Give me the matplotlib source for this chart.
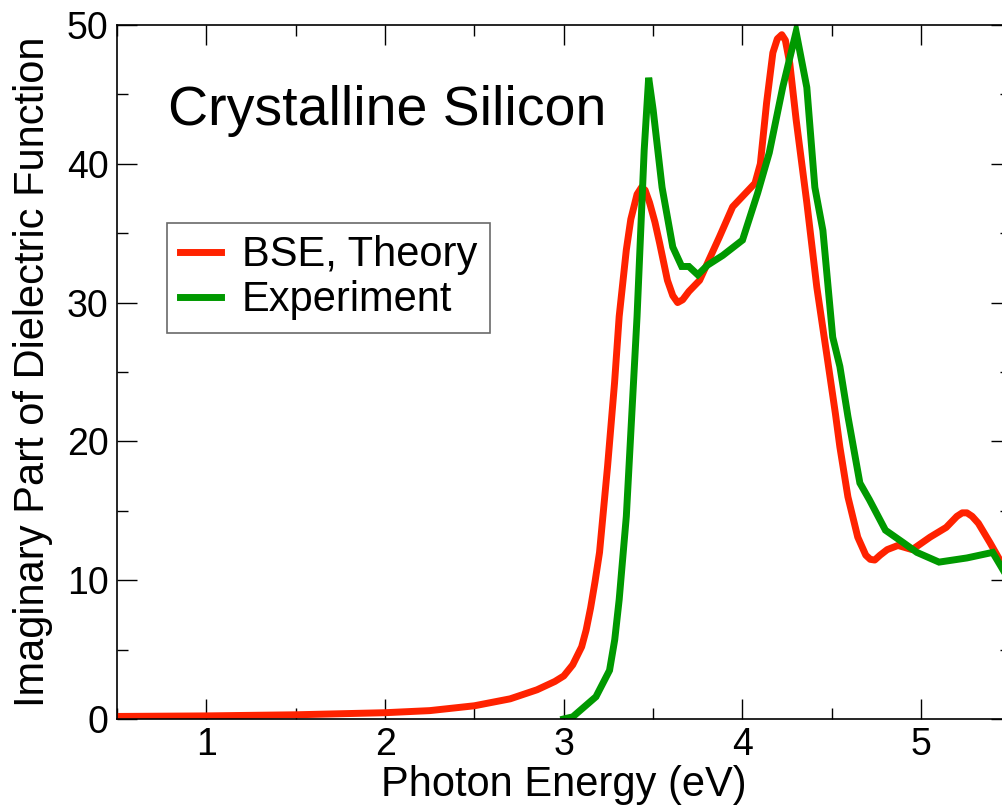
import matplotlib
matplotlib.use("Agg")
import matplotlib.pyplot as plt
from matplotlib.ticker import MultipleLocator

plt.rcParams["font.family"] = ["Liberation Sans", "DejaVu Sans"]

# ---- data ----
bse_energy = [0.5, 1.0, 1.5, 2.0, 2.25, 2.5, 2.7, 2.85, 2.95, 3.0, 3.05, 3.1,
              3.125, 3.15, 3.175, 3.2, 3.245, 3.284, 3.31, 3.35, 3.375, 3.41,
              3.435, 3.455, 3.48, 3.51, 3.536, 3.58, 3.61, 3.637, 3.665, 3.70,
              3.76, 3.87, 3.945, 4.07, 4.1, 4.135, 4.17, 4.195, 4.22, 4.24,
              4.265, 4.3, 4.36, 4.416, 4.47, 4.52, 4.545, 4.59, 4.645, 4.69,
              4.715, 4.74, 4.77, 4.81, 4.87, 4.95, 5.05, 5.14, 5.2, 5.23,
              5.256, 5.285, 5.32, 5.385, 5.46, 5.5]
bse_eps2 = [0.18, 0.22, 0.3, 0.45, 0.6, 0.95, 1.45, 2.1, 2.7, 3.1, 3.9, 5.2,
            6.4, 8.0, 9.9, 12.0, 18.2, 24.2, 29.0, 33.8, 36.0, 37.8,
            38.3, 38.1, 37.2, 35.8, 34.3, 31.6, 30.5, 30.0, 30.2, 30.8,
            31.6, 34.7, 36.9, 38.6, 40.0, 44.4, 48.0, 49.0, 49.3, 48.9,
            47.2, 43.2, 37.2, 31.1, 26.4, 22.0, 19.6, 16.0, 13.1, 11.8,
            11.5, 11.45, 11.8, 12.2, 12.5, 12.2, 13.1, 13.8, 14.6, 14.85,
            14.85, 14.6, 14.1, 12.7, 11.0, 10.0]

exp_energy = [3.0, 3.05, 3.18, 3.256, 3.285, 3.31, 3.35, 3.38, 3.41, 3.45,
              3.475, 3.5, 3.55, 3.61, 3.66, 3.70, 3.75, 3.805, 3.89, 4.0,
              4.085, 4.15, 4.225, 4.30, 4.36, 4.405, 4.45, 4.505, 4.545, 4.59,
              4.657, 4.71, 4.8, 4.9, 4.976, 5.1, 5.256, 5.4, 5.46, 5.5]
exp_eps2 = [0.0, 0.15, 1.6, 3.5, 5.7, 8.6, 14.6, 21.8, 29.0, 41.0,
            46.2, 43.9, 38.3, 34.0, 32.6, 32.6, 32.0, 32.7, 33.4, 34.5,
            37.9, 40.8, 45.5, 49.5, 45.5, 38.3, 35.2, 27.5, 25.4, 21.8,
            17.0, 15.8, 13.6, 12.7, 12.0, 11.3, 11.6, 12.0, 10.7, 10.0]

RED = "#ff2200"
GREEN = "#009900"

fig = plt.figure(figsize=(10.03, 8.11), dpi=100)
ax = fig.add_axes([0.1167, 0.1135, 0.8908, 0.8557])

ax.plot(bse_energy, bse_eps2, color=RED, lw=5, label="BSE, Theory",
        solid_joinstyle="round")
ax.plot(exp_energy, exp_eps2, color=GREEN, lw=5, label="Experiment",
        solid_joinstyle="miter")

ax.set_xlim(0.5, 5.5)
ax.set_ylim(0, 50)
ax.xaxis.set_major_locator(MultipleLocator(1))
ax.xaxis.set_minor_locator(MultipleLocator(0.5))
ax.yaxis.set_major_locator(MultipleLocator(10))
ax.yaxis.set_minor_locator(MultipleLocator(5))
ax.tick_params(which="both", direction="in", top=True, right=True,
               width=1.0, labelsize=27, pad=6)
ax.tick_params(which="major", length=14.5)
ax.tick_params(which="minor", length=8)
for sp in ax.spines.values():
    sp.set_linewidth(1.2)

ax.set_xlabel("Photon Energy (eV)", fontsize=30)
ax.set_ylabel("Imaginary Part of Dielectric Function", fontsize=30)
ax.xaxis.set_label_coords(0.5, -0.066)
ax.yaxis.set_label_coords(-0.072, 0.5)

ax.text(0.057, 0.856, "Crystalline Silicon", transform=ax.transAxes,
        fontsize=40, va="baseline", ha="left")

leg = ax.legend(loc="upper left", bbox_to_anchor=(0.056, 0.7147),
                borderaxespad=0, fontsize=30, frameon=True, fancybox=False,
                handlelength=1.0, handletextpad=0.5, borderpad=0.3,
                labelspacing=0.12)
leg.get_frame().set_edgecolor("#444444")
leg.get_frame().set_linewidth(1.2)

fig.savefig("out.png", dpi=100)
